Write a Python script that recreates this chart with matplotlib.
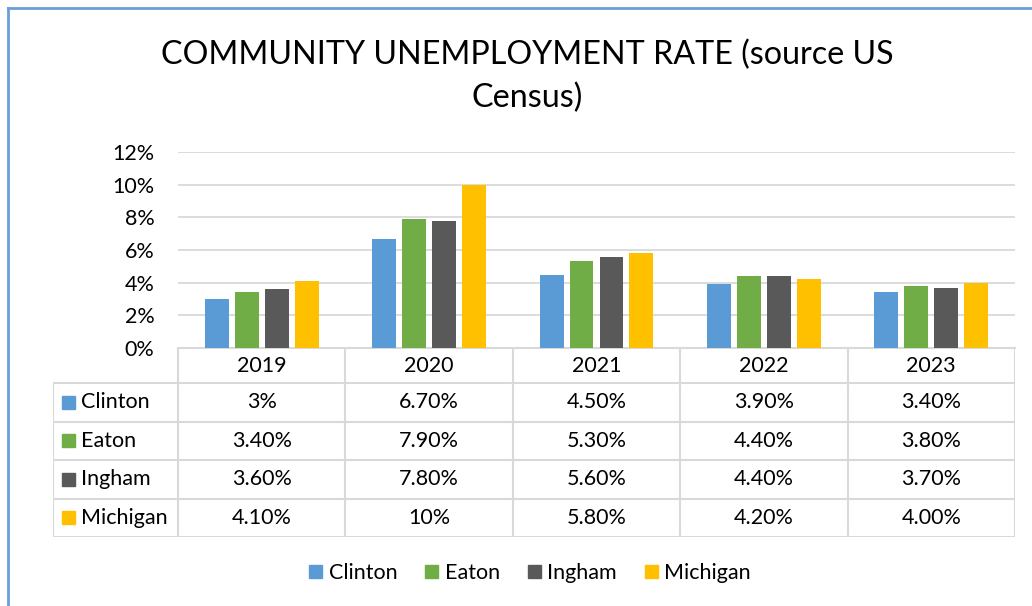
import numpy as np
import matplotlib
matplotlib.use('Agg')
from matplotlib import pyplot as plt
from matplotlib.patches import Patch

plt.rcParams['font.family'] = ['Lato', 'DejaVu Sans']

years = ['2019', '2020', '2021', '2022', '2023']
counties = ['Clinton', 'Eaton', 'Ingham', 'Michigan']
clinton = ['3%', '6.70%', '4.50%', '3.90%', '3.40%']
eaton = ['3.40%', '7.90%', '5.30%', '4.40%', '3.80%']
ingham = ['3.60%', '7.80%', '5.60%', '4.40%', '3.70%']
michigan = ['4.10%', '10%', '5.80%', '4.20%', '4.00%']
colors = ['#5B9BD5', '#70AD47', '#595959', '#FFC000']

labels = [clinton, eaton, ingham, michigan]
values = [[float(s.strip('%')) / 100 for s in row] for row in labels]

W, H = 1032, 606
fig = plt.figure(figsize=(W / 100, H / 100), dpi=100)

def px(x0, y0, x1, y1):
    return [x0 / W, 1 - y1 / H, (x1 - x0) / W, (y1 - y0) / H]

grid_c = '#D9D9D9'
txt_c = '#000000'
fs = 15.5

# bars
ax = fig.add_axes(px(178, 152, 1015, 348))
x = np.arange(len(years))
bw = 0.143
step = 0.179
for k, (vals, c) in enumerate(zip(values, colors)):
    ax.bar(x + (k - 1.5) * step, vals, width=bw, color=c, zorder=3)
ax.set_xlim(-0.5, len(years) - 0.5)
ax.set_ylim(0, 0.12)
ticks = np.arange(0, 0.121, 0.02)
ax.set_yticks(ticks)
ax.set_yticklabels([f'{int(round(v * 100))}%' for v in ticks])
ax.yaxis.grid(True, color=grid_c, linewidth=1.3, zorder=0)
ax.set_xticks([])
for s in ['top', 'right', 'left']:
    ax.spines[s].set_visible(False)
ax.spines['bottom'].set_color(grid_c)
ax.spines['bottom'].set_linewidth(1.5)
ax.tick_params(axis='y', length=0, pad=17, labelsize=fs, labelcolor=txt_c)

# data table under the bars
lab_w = 125 / 167.4
hdr = 35 / 38.5
tax = fig.add_axes(px(53, 348, 1015, 537))
tax.set_xlim(-0.5 - lab_w, len(years) - 0.5)
tax.set_ylim(hdr + len(counties), 0)
tax.axis('off')
lw = 1.5
for i in range(len(years) + 1):
    tax.plot([i - 0.5, i - 0.5], [0, hdr + len(counties)], color=grid_c, lw=lw, solid_capstyle='butt')
tax.plot([-0.5 - lab_w] * 2, [hdr, hdr + len(counties)], color=grid_c, lw=lw, solid_capstyle='butt')
for r in range(len(counties) + 1):
    tax.plot([-0.5 - lab_w, len(years) - 0.5], [hdr + r] * 2, color=grid_c, lw=lw, solid_capstyle='butt')
for i, yr in enumerate(years):
    tax.text(i, hdr / 2, yr, ha='center', va='center', fontsize=fs, color=txt_c)
for r, (name, row, c) in enumerate(zip(counties, labels, colors)):
    yc = hdr + r + 0.5
    tax.add_patch(plt.Rectangle((-0.5 - lab_w + 0.055, yc - 0.17), 0.078, 0.34, color=c))
    tax.text(-0.5 - lab_w + 0.165, yc, name, ha='left', va='center', fontsize=fs, color=txt_c)
    for i, s in enumerate(row):
        tax.text(i, yc, s, ha='center', va='center', fontsize=fs, color=txt_c)

# legend
handles = [Patch(color=c, label=n) for n, c in zip(counties, colors)]
fig.legend(handles=handles, loc='center', bbox_to_anchor=(530 / W, 1 - 573 / H), ncol=4,
           frameon=False, fontsize=fs, handlelength=0.6, handleheight=0.6,
           handletextpad=0.3, columnspacing=1.3)

fig.text(527 / W, 1 - 55 / H, 'COMMUNITY UNEMPLOYMENT RATE (source US', ha='center', va='center',
         fontsize=23.2, color=txt_c)
fig.text(527 / W, 1 - 98 / H, 'Census)', ha='center', va='center', fontsize=23.2, color=txt_c)

# chart border, left and top edges
border = '#6A9FD8'
fig.add_artist(plt.Line2D([7.5 / W, 7.5 / W], [0, 1 - 7.5 / H], color=border, lw=2))
fig.add_artist(plt.Line2D([7.5 / W, 1], [1 - 7.5 / H, 1 - 7.5 / H], color=border, lw=2))

fig.savefig('out.png', dpi=100, facecolor='white')
